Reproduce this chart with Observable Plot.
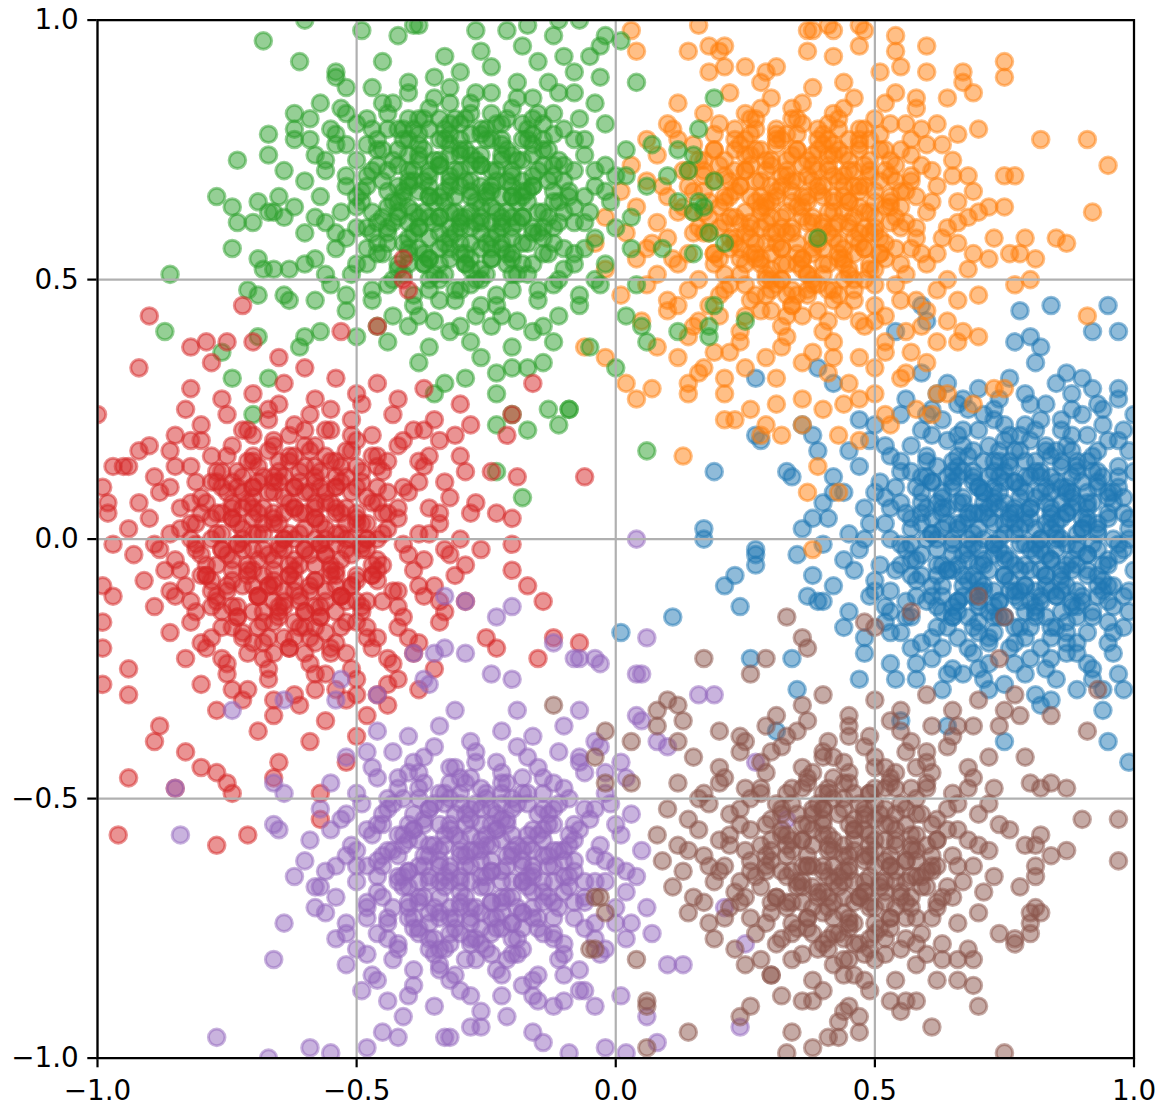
<!DOCTYPE html>
<html><head><meta charset="utf-8">
<script src="https://cdn.jsdelivr.net/npm/d3@7"></script>
<script src="https://cdn.jsdelivr.net/npm/@observablehq/plot@0.6"></script>
<style>
html,body{margin:0;padding:0;background:#fff;}
#chart svg{display:block;}
#chart g[aria-label*="axis"] path, #chart g[aria-label*="axis"] line{stroke-width:2.2px;}
</style>
</head><body><div id="chart"></div>
<script>
const xTicks = [-1, -0.5, 0, 0.5, 1];
const yTicks = [-1, -0.5, 0, 0.5, 1];
const seriesNames = ["C0","C1","C2","C3","C4","C5"];
const seriesColors = ["#1f77b4","#ff7f0e","#2ca02c","#d62728","#9467bd","#8c564b"];

const blue = [
[.27,.31],[.42,.30],[.39,.33],[.27,.20],[.28,.19],[.36,.22],[.38,.20],[.39,.17],[.47,.23],[.33,.13],[.34,.12],[.19,.13],[.17,.02],[.17,-.00],[.27,-.02],[.84,.45],[.95,.45],[.78,.44],[.92,.40],[.97,.40],[.77,.38],[.80,.39],[.82,.37],[.59,.45],[.60,.42],[.54,.40],[.87,.32],[.81,.34],[.97,.29],[.92,.29],[.59,.32],[.42,.09],[.38,.04],[.01,-.18],[.11,-.15],[.24,-.13],[.21,-.09],[.23,-.07],[.27,-.03],[.27,-.05],[.26,-.23],[.34,-.23],[.35,-.29],[.31,-.37],[.47,-.27],[.55,-.35],[.75,-.39],[.95,-.39],[.99,-.43],[.94,-.33],[.82,-.32],[.84,-.31],[.92,-.27],[.94,-.29],[.98,-.29],[.71,-.27],[.72,-.29],[.64,-.36],[.39,-.12],[.37,-.11],
[.56,.27],[.62,.28],[.66,.26],[.70,.29],[.74,.27],[.79,.28],[.83,.26],[.88,.28],[.93,.26],[.97,.27],[.64,.30],[.76,.31],[.85,.30],[.68,.25],[.90,.31],
[.50,.22],[.55,.24],[.59,.21],[.63,.23],[.67,.21],[.71,.24],[.75,.22],[.78,.20],[.82,.23],[.86,.21],[.90,.24],[.94,.22],[.98,.21],[.61,.25],[.73,.25],[.88,.25],[1.0,.24],
[.45,.17],[.49,.19],[.53,.16],[.57,.18],[.60,.15],[.64,.19],[.68,.16],[.72,.18],[.76,.15],[.80,.19],[.84,.16],[.87,.18],[.91,.15],[.95,.19],[.99,.17],[.66,.20],[.78,.17],[.93,.17],
[.42,.12],[.47,.14],[.51,.11],[.55,.13],[.58,.10],[.62,.14],[.65,.11],[.69,.13],[.73,.10],[.76,.14],[.80,.12],[.83,.10],[.86,.14],[.90,.11],[.93,.13],[.97,.10],[1.0,.13],[.60,.12],[.71,.15],[.88,.12],[.79,.15],
[.40,.07],[.44,.09],[.48,.06],[.52,.08],[.56,.05],[.59,.09],[.63,.06],[.67,.08],[.70,.05],[.74,.09],[.77,.06],[.81,.08],[.84,.05],[.88,.09],[.91,.06],[.95,.08],[.98,.05],[.54,.10],[.65,.10],[.73,.07],[.86,.07],[.93,.10],
[.36,.02],[.41,.04],[.45,.01],[.49,.03],[.53,.00],[.57,.04],[.61,.01],[.64,.03],[.68,.00],[.72,.04],[.75,.01],[.79,.03],[.82,.00],[.86,.04],[.89,.01],[.93,.03],[.96,.00],[.99,.04],[.59,.05],[.70,.02],[.77,.05],[.84,.02],[.91,.04],
[.35,-.03],[.40,-.01],[.44,-.04],[.47,-.02],[.51,-.05],[.55,-.01],[.58,-.04],[.62,-.02],[.66,-.05],[.69,-.01],[.73,-.03],[.77,-.05],[.80,-.02],[.84,-.04],[.87,-.01],[.91,-.03],[.94,-.05],[.98,-.02],[.60,-.00],[.71,-.04],[.82,-.00],[.89,-.05],
[.38,-.07],[.42,-.09],[.46,-.06],[.50,-.08],[.53,-.10],[.57,-.07],[.61,-.09],[.64,-.06],[.68,-.08],[.71,-.10],[.75,-.07],[.79,-.09],[.82,-.06],[.86,-.08],[.89,-.10],[.93,-.07],[.96,-.09],[1.0,-.06],[.55,-.05],[.73,-.10],[.84,-.10],
[.40,-.12],[.45,-.14],[.49,-.11],[.52,-.13],[.56,-.15],[.60,-.12],[.63,-.14],[.67,-.11],[.70,-.13],[.74,-.15],[.78,-.12],[.81,-.14],[.85,-.11],[.88,-.13],[.92,-.15],[.95,-.12],[.99,-.14],[.65,-.15],[.76,-.10],[.90,-.11],
[.44,-.17],[.48,-.19],[.52,-.16],[.55,-.18],[.59,-.20],[.62,-.17],[.66,-.19],[.70,-.16],[.73,-.18],[.77,-.20],[.80,-.17],[.84,-.19],[.87,-.16],[.91,-.18],[.95,-.20],[.98,-.17],[.68,-.21],[.82,-.21],
[.48,-.22],[.53,-.24],[.57,-.21],[.61,-.23],[.65,-.25],[.69,-.22],[.72,-.24],[.76,-.21],[.80,-.23],[.83,-.25],[.87,-.22],[.91,-.24],[.96,-.22],[.63,-.21],[.89,-.20],
[.58,-.27],[.63,-.29],[.67,-.26],[.75,-.28],[.79,-.26],[.85,-.27],[.89,-.29],[.97,-.26],[.54,-.27],[.81,-.30],
[.62,.07],[.66,.03],[.70,.10],[.74,-.02],[.78,.08],[.82,.13],[.86,-.06],[.90,.02],[.94,.12],[.58,-.08],[.63,-.11],[.68,.05],[.72,.12],[.76,-.08],[.80,.04],[.84,.09],[.88,-.12],[.92,-.01],[.96,.07],[.65,-.03],[.69,-.07],[.73,.03],[.77,.11],[.81,-.10],[.85,.00],[.89,.07],[.93,-.09],[.97,.14],[.60,.16],[.67,.18],[.75,.19],[.83,.17],[.91,.20],[.64,-.17],[.72,-.19],[.79,-.14],[.87,-.18],[.95,-.16],[.71,.00],[.79,-.01],[.87,.05],[.57,.02],[.61,.11],[.53,.06],[.56,-.12],[.99,.00],[.99,-.10],[.75,.13],[.83,-.07],[.70,-.12],[.66,.14],[.91,.09],[.95,-.04],[.86,.15],[.78,-.17],[.74,.06],[.62,-.05],[.68,-.15],[.81,.21],[.89,-.22],
[.52,.18],[.57,.13],[.61,.20],[.66,.16],[.70,.21],[.74,.17],[.79,.22],[.83,.18],[.88,.20],[.92,.16],[.97,.19],
[.50,.09],[.55,.07],[.59,.12],[.63,.08],[.67,.13],[.71,.07],[.75,.11],[.80,.06],[.84,.12],[.88,.08],[.92,.13],[.96,.09],
[.48,.00],[.52,.03],[.56,-.02],[.61,.04],[.65,.00],[.69,.05],[.73,-.01],[.77,.03],[.81,-.03],[.85,.03],[.89,-.02],[.93,.02],[.97,-.03],
[.50,-.10],[.54,-.06],[.58,-.11],[.62,-.07],[.66,-.12],[.70,-.08],[.74,-.12],[.78,-.06],[.82,-.11],[.86,-.07],[.90,-.12],[.94,-.08],[.98,-.11],
[.53,-.18],[.57,-.15],[.61,-.19],[.66,-.14],[.70,-.18],[.75,-.15],[.79,-.19],[.83,-.15],[.87,-.20],[.92,-.14],[.96,-.18],
[.58,-.24],[.64,-.26],[.70,-.25],[.77,-.24],[.84,-.23],[.92,-.25],
[.60,.24],[.67,.27],[.73,.23],[.80,.26],[.86,.23],[.94,.25],
[.63,.02],[.67,-.09],[.71,.09],[.75,-.04],[.79,.12],[.83,-.09],[.87,.10],[.91,-.06],[.95,.04],[.64,.12],[.68,-.02],[.72,-.14],[.76,.05],[.80,-.12],[.84,.06],[.88,-.04],[.92,.07],[.96,-.13],[.66,.07],[.70,-.05],[.74,.15],[.78,-.01],[.82,.09],[.86,-.14],[.90,.04],[.94,-.10],[.98,.08],[.62,-.13],[.73,.08],[.77,-.10],[.81,.02],[.85,-.02],[.89,.14],[.93,-.02],[.69,.12],[.65,-.06],[.60,.06],[.57,-.04],[.76,.20],[.84,-.17],[.72,-.20],[.88,.17],[.99,.02],[.97,.12],[.55,.15],[.53,-.14],
[.65,.15],[.69,.17],[.73,.15],[.77,.17],[.81,.15],[.85,.17],[.89,.15],
[.61,.11],[.65,.13],[.69,.11],[.73,.13],[.77,.11],[.81,.13],[.85,.11],[.89,.13],[.93,.11],
[.59,.07],[.63,.09],[.67,.07],[.71,.09],[.75,.07],[.79,.09],[.83,.07],[.87,.09],[.91,.07],[.95,.09],
[.59,.03],[.63,.05],[.67,.03],[.71,.05],[.75,.03],[.79,.05],[.83,.03],[.87,.05],[.91,.03],[.95,.05],
[.57,-.01],[.61,.01],[.65,-.01],[.69,.01],[.73,-.01],[.77,.01],[.81,-.01],[.85,.01],[.89,-.01],[.93,.01],[.97,-.01],
[.59,-.03],[.63,-.05],[.67,-.03],[.71,-.05],[.75,-.03],[.79,-.05],[.83,-.03],[.87,-.05],[.91,-.03],[.95,-.05],
[.59,-.07],[.63,-.09],[.67,-.07],[.71,-.09],[.75,-.07],[.79,-.09],[.83,-.07],[.87,-.09],[.91,-.07],[.95,-.09],
[.61,-.11],[.65,-.13],[.69,-.11],[.73,-.13],[.77,-.11],[.81,-.13],[.85,-.11],[.89,-.13],[.93,-.11],
[.65,-.15],[.69,-.17],[.73,-.15],[.77,-.17],[.81,-.15],[.85,-.17],[.89,-.15],
[.66,.12],[.70,.10],[.74,.12],[.78,.10],[.82,.12],[.86,.10],
[.64,.06],[.68,.04],[.72,.06],[.76,.04],[.80,.06],[.84,.04],[.88,.06],
[.62,.00],[.66,.02],[.70,-.02],[.74,.00],[.78,.02],[.82,-.02],[.86,.00],[.90,.02],
[.64,-.06],[.68,-.04],[.72,-.06],[.76,-.04],[.80,-.06],[.84,-.04],[.88,-.06],
[.66,-.12],[.70,-.10],[.74,-.12],[.78,-.10],[.82,-.12],[.86,-.10]
];

const orange = [
[.03,.98],[.04,.94],[.16,.99],[.14,.94],[.18,.95],[.20,.94],[.21,.95],[.18,.90],[.21,.91],[.25,.91],[.29,.90],[.31,.91],[.37,.98],[.38,.98],[.41,.99],[.42,.98],[.47,.99],[.48,.98],[.37,.94],[.42,.93],[.47,.95],[.54,.97],[.54,.94],[.60,.95],[.60,.90],[.55,.91],[.51,.90],[.67,.90],[.67,.88],[.69,.86],[.75,.92],[.75,.89],[.58,.85],[.70,.79],[.82,.77],[.91,.77],[.95,.72],[.75,.70],[.77,.70],[.75,.64],[.72,.64],[.70,.63],[.66,.61],[.92,.63],[.69,.67],[.73,.58],[.79,.58],[.85,.58],[.87,.57],[.69,.55],[.72,.54],[.76,.55],[.78,.55],[.81,.54],[.77,.49],[.80,.50],[.68,.52],[.91,.43],[.70,.47],[.66,.46],[.67,.40],[.66,.38],[.70,.39],[.73,.29],[.75,.29],[.69,.26],[.61,.24],[.58,.25],[.53,.22],[.52,.24],[.56,.32],[.62,.28],[.64,.28],[.50,.28],[.47,.27],[.44,.26],[.43,.20],[.47,.19],[.39,.14],[.43,.09],[.37,.09],[.38,-.02],[.40,.25],[.36,.22],[.32,.20],[.28,.20],[.29,.22],[.21,.23],[.23,.23],[.13,.16],[.26,.25],[.31,.26],[.36,.27],[.02,.30],[.04,.27],[.07,.29],[.14,.28],[.14,.30],[.21,.28],[.21,.31],[.17,.33],[.12,.35],[-.02,.35],[-.06,.37],
[.12,.84],[.17,.82],[.22,.86],[.26,.81],[.30,.85],[.34,.83],[.38,.87],[.42,.82],[.46,.85],[.50,.81],[.54,.86],[.58,.83],[.62,.80],[.28,.88],[.36,.80],[.44,.88],[.64,.85],[.10,.80],
[.06,.77],[.11,.79],[.15,.76],[.19,.78],[.23,.75],[.27,.79],[.31,.76],[.35,.78],[.39,.75],[.43,.79],[.47,.76],[.51,.78],[.55,.75],[.59,.79],[.63,.76],[.66,.78],[.25,.77],[.41,.77],[.57,.77],
[.03,.72],[.08,.74],[.13,.71],[.17,.73],[.21,.70],[.25,.74],[.29,.71],[.33,.73],[.37,.70],[.41,.74],[.45,.71],[.49,.73],[.53,.70],[.57,.74],[.61,.71],[.65,.73],[.68,.70],[.35,.75],[.47,.75],[.59,.72],
[.01,.67],[.06,.69],[.10,.66],[.14,.68],[.18,.65],[.22,.69],[.26,.66],[.30,.68],[.34,.65],[.38,.69],[.42,.66],[.46,.68],[.50,.65],[.54,.69],[.58,.66],[.62,.68],[.66,.65],[.32,.70],[.44,.70],[.56,.67],
[-.02,.62],[.04,.64],[.08,.61],[.12,.63],[.16,.60],[.20,.64],[.24,.61],[.28,.63],[.32,.60],[.36,.64],[.40,.61],[.44,.63],[.48,.60],[.52,.64],[.56,.61],[.60,.63],[.64,.60],[.68,.62],[.30,.65],[.42,.65],[.54,.62],
[-.04,.57],[.02,.59],[.06,.56],[.10,.58],[.14,.55],[.18,.59],[.22,.56],[.26,.58],[.30,.55],[.34,.59],[.38,.56],[.42,.58],[.46,.55],[.50,.59],[.54,.56],[.58,.58],[.62,.55],[.66,.57],[.28,.60],[.40,.60],[.52,.57],
[-.02,.52],[.04,.54],[.08,.51],[.12,.53],[.16,.50],[.20,.54],[.24,.51],[.28,.53],[.32,.50],[.36,.54],[.40,.51],[.44,.53],[.48,.50],[.52,.54],[.56,.51],[.60,.53],[.64,.50],[.26,.55],[.38,.55],[.50,.52],
[.01,.47],[.06,.49],[.10,.46],[.14,.48],[.18,.45],[.22,.49],[.26,.46],[.30,.48],[.34,.45],[.38,.49],[.42,.46],[.46,.48],[.50,.45],[.54,.49],[.58,.46],[.62,.48],[.32,.50],[.44,.50],
[.05,.42],[.10,.44],[.15,.41],[.20,.43],[.24,.40],[.28,.44],[.32,.41],[.36,.43],[.40,.40],[.44,.44],[.48,.41],[.52,.43],[.56,.40],[.60,.44],[.64,.42],[.34,.45],
[.08,.37],[.14,.39],[.19,.36],[.24,.38],[.29,.35],[.33,.39],[.38,.36],[.42,.38],[.47,.35],[.52,.38],[.57,.36],[.62,.38],
[.16,.32],[.25,.33],[.31,.31],[.36,.34],[.41,.32],[.45,.30],[.50,.33],[.55,.31],[.60,.34],
[.20,.72],[.24,.68],[.28,.75],[.32,.62],[.36,.72],[.40,.66],[.44,.74],[.48,.63],[.52,.71],[.27,.57],[.31,.66],[.35,.57],[.39,.71],[.43,.61],[.47,.68],[.51,.58],[.23,.62],[.19,.55],[.29,.50],[.37,.48],[.45,.52],[.53,.66],[.41,.80],[.33,.78],[.25,.82],[.49,.77],[.17,.67],[.21,.48],[.39,.44],[.47,.42],[.57,.70],[.55,.53],[.30,.44],[.26,.72],[.34,.69],[.42,.70],[.38,.61],[.46,.58],[.22,.58],[.30,.59],[.50,.49],[.14,.71],[.18,.62],[.58,.60],[.36,.52],[.44,.56],[.28,.64],[.40,.76],[.48,.72],[.32,.53],
[.12,.77],[.16,.73],[.20,.80],[.24,.76],[.28,.83],[.32,.77],[.36,.84],[.40,.78],[.44,.83],[.48,.79],[.52,.84],[.56,.80],[.60,.76],
[.09,.68],[.13,.64],[.17,.70],[.21,.66],[.25,.71],[.29,.64],[.33,.70],[.37,.66],[.41,.72],[.45,.65],[.49,.70],[.53,.64],[.57,.69],[.61,.65],[.65,.70],
[.07,.57],[.11,.54],[.15,.59],[.19,.53],[.23,.58],[.27,.54],[.31,.59],[.35,.53],[.39,.58],[.43,.54],[.47,.59],[.51,.55],[.55,.60],[.59,.55],[.63,.58],
[.12,.45],[.16,.42],[.20,.47],[.25,.43],[.29,.47],[.33,.43],[.37,.47],[.41,.42],[.46,.46],[.50,.42],[.55,.46],[.59,.41],
[.22,.36],[.32,.37],[.42,.35],[.52,.36],
[.22,.66],[.26,.61],[.30,.73],[.34,.67],[.38,.74],[.42,.63],[.46,.71],[.50,.62],[.24,.54],[.28,.69],[.32,.56],[.36,.62],[.40,.53],[.44,.68],[.48,.56],[.52,.75],[.26,.78],[.30,.52],[.34,.81],[.38,.58],[.42,.76],[.46,.50],[.50,.67],[.54,.72],[.20,.60],[.35,.64],[.45,.60],[.27,.65],[.39,.68],[.43,.57],[.31,.78],[.23,.71],[.47,.64],[.55,.64],[.19,.75],[.37,.51],[.29,.57],[.41,.48],[.33,.47],[.49,.52],[.25,.49],[.15,.63],[.57,.56],[.53,.80],[.45,.77],
[.23,.79],[.27,.81],[.31,.79],[.35,.81],[.39,.79],[.43,.81],[.47,.79],
[.19,.75],[.23,.77],[.27,.75],[.31,.77],[.35,.75],[.39,.77],[.43,.75],[.47,.77],[.51,.75],
[.17,.71],[.21,.73],[.25,.71],[.29,.73],[.33,.71],[.37,.73],[.41,.71],[.45,.73],[.49,.71],[.53,.73],
[.15,.67],[.19,.69],[.23,.67],[.27,.69],[.31,.67],[.35,.69],[.39,.67],[.43,.69],[.47,.67],[.51,.69],[.55,.67],
[.17,.63],[.21,.65],[.25,.63],[.29,.65],[.33,.63],[.37,.65],[.41,.63],[.45,.65],[.49,.63],[.53,.65],
[.17,.59],[.21,.61],[.25,.59],[.29,.61],[.33,.59],[.37,.61],[.41,.59],[.45,.61],[.49,.59],[.53,.61],
[.19,.55],[.23,.57],[.27,.55],[.31,.57],[.35,.55],[.39,.57],[.43,.55],[.47,.57],[.51,.55],
[.21,.51],[.25,.53],[.29,.51],[.33,.53],[.37,.51],[.41,.53],[.45,.51],[.49,.53],
[.27,.47],[.31,.49],[.35,.47],[.39,.49],[.43,.47],
[.26,.74],[.30,.72],[.34,.74],[.38,.72],[.42,.74],
[.24,.68],[.28,.66],[.32,.68],[.36,.66],[.40,.68],[.44,.66],[.48,.68],
[.22,.62],[.26,.60],[.30,.62],[.34,.60],[.38,.62],[.42,.60],[.46,.62],[.50,.60],
[.24,.56],[.28,.54],[.32,.56],[.36,.54],[.40,.56],[.44,.54],[.48,.56],
[.30,.50],[.34,.48],[.38,.50],[.42,.48]
];

const green = [
[-.60,1.0],[-.68,.96],[-.49,.98],[-.42,.97],[-.39,.99],[-.38,.99],[-.27,.98],[-.21,.98],[-.61,.92],[-.45,.92],[-.54,.90],[-.54,.89],[-.52,.87],[-.47,.87],[-.40,.88],[-.57,.84],[-.53,.83],[-.62,.82],[-.59,.81],[-.67,.78],[-.62,.79],[-.62,.77],[-.59,.77],[-.54,.78],[-.67,.74],[-.73,.73],[-.64,.71],[-.77,.66],[-.74,.64],[-.73,.61],[-.70,.61],[-.74,.56],[-.69,.65],[-.65,.66],[-.67,.63],[-.66,.63],[-.64,.62],[-.69,.54],[-.68,.52],[-.66,.52],[-.63,.52],[-.60,.53],[-.86,.51],[-.71,.48],[-.69,.47],[-.64,.47],[-.63,.46],[-.58,.46],[-.87,.40],[-.69,.39],[-.76,.36],[-.74,.31],[-.67,.31],[-.70,.24],[-.61,.37],[-.60,.39],[-.57,.40],[-.23,.28],[-.20,.24],[-.23,.22],[-.17,.21],[-.13,.25],[-.09,.25],[-.11,.22],[-.18,.08],[-.23,.13],[-.35,.28],[-.33,.30],[-.29,.31],[-.23,.32],[-.20,.33],[-.17,.33],[-.07,1.0],[.01,.96],[-.03,.95],[-.03,.89],[.04,.88],[.19,.85],[.16,.79],[.07,.76],[.12,.75],[.15,.74],[.02,.70],[.06,.68],[.10,.70],[.14,.71],[.19,.69],[.12,.65],[.16,.65],[.17,.64],[.15,.63],[.18,.59],[.21,.57],[.39,.58],[.03,.56],[.09,.56],[.15,.55],[.04,.49],[.19,.45],[.25,.42],[.02,.43],[.05,.41],[.06,.38],[.12,.40],[.18,.41],[.18,.39],[-.05,.37],[.00,.33],[-.09,.25],[.06,.17],
[-.33,.93],[-.30,.90],[-.26,.94],[-.24,.91],[-.18,.95],[-.15,.92],[-.12,.97],[-.10,.93],[-.08,.90],[-.35,.89],[-.19,.88],[-.13,.88],[-.17,.99],[-.11,1.0],[-.05,.93],[-.02,.97],
[-.45,.84],[-.40,.86],[-.36,.83],[-.32,.87],[-.28,.84],[-.24,.86],[-.20,.83],[-.16,.85],[-.12,.82],[-.08,.86],[-.04,.84],[-.38,.81],[-.22,.80],[-.30,.80],[-.14,.80],[-.48,.81],
[-.55,.79],[-.50,.80],[-.46,.77],[-.42,.79],[-.38,.78],[-.34,.81],[-.30,.77],[-.26,.79],[-.22,.77],[-.18,.80],[-.14,.77],[-.10,.79],[-.06,.77],[-.02,.80],[-.44,.82],[-.28,.82],[-.20,.74],
[-.58,.74],[-.54,.76],[-.50,.73],[-.46,.75],[-.42,.72],[-.38,.76],[-.34,.73],[-.30,.75],[-.26,.72],[-.22,.76],[-.18,.73],[-.14,.75],[-.10,.72],[-.06,.74],[-.02,.72],[.02,.75],[-.32,.78],[-.40,.74],[-.16,.78],
[-.60,.69],[-.56,.71],[-.52,.68],[-.48,.70],[-.44,.67],[-.40,.71],[-.36,.68],[-.32,.70],[-.28,.67],[-.24,.71],[-.20,.68],[-.16,.70],[-.12,.67],[-.08,.71],[-.04,.68],[.00,.70],[-.34,.72],[-.26,.74],[-.18,.66],
[-.62,.64],[-.57,.66],[-.53,.63],[-.49,.65],[-.45,.62],[-.41,.66],[-.37,.63],[-.33,.65],[-.29,.62],[-.25,.66],[-.21,.63],[-.17,.65],[-.13,.62],[-.09,.66],[-.05,.63],[-.01,.65],[.03,.62],[-.39,.69],[-.23,.69],[-.31,.66],
[-.60,.59],[-.56,.61],[-.52,.58],[-.48,.60],[-.44,.57],[-.40,.61],[-.36,.58],[-.32,.60],[-.28,.57],[-.24,.61],[-.20,.58],[-.16,.60],[-.12,.57],[-.08,.61],[-.04,.58],[.00,.60],[-.34,.62],[-.26,.59],[-.42,.63],
[-.58,.54],[-.54,.56],[-.50,.53],[-.46,.55],[-.42,.52],[-.38,.56],[-.34,.53],[-.30,.55],[-.26,.52],[-.22,.56],[-.18,.53],[-.14,.55],[-.10,.52],[-.06,.56],[-.02,.53],[-.32,.58],[-.20,.60],[-.44,.59],
[-.55,.49],[-.51,.51],[-.47,.48],[-.43,.50],[-.39,.47],[-.35,.51],[-.31,.48],[-.27,.50],[-.23,.47],[-.19,.51],[-.15,.48],[-.11,.50],[-.07,.47],[-.03,.49],[-.29,.53],[-.37,.53],
[-.52,.44],[-.47,.46],[-.43,.43],[-.39,.45],[-.35,.42],[-.31,.46],[-.27,.43],[-.23,.45],[-.19,.42],[-.15,.46],[-.11,.43],[-.07,.45],
[-.50,.39],[-.44,.38],[-.40,.41],[-.36,.37],[-.32,.40],[-.28,.38],[-.24,.41],[-.20,.37],[-.16,.40],[-.12,.38],[-.26,.35],[-.38,.34],[-.14,.34],
[-.36,.66],[-.32,.74],[-.28,.69],[-.24,.64],[-.20,.71],[-.30,.61],[-.26,.56],[-.22,.66],[-.18,.62],[-.34,.56],[-.38,.73],[-.42,.68],[-.44,.60],[-.40,.55],[-.36,.50],[-.28,.78],[-.24,.82],[-.16,.74],[-.12,.70],[-.14,.58],[-.10,.63],[-.06,.66],[-.08,.53],[-.46,.72],[-.50,.64],[-.48,.56],[-.32,.84],[-.20,.51],[-.26,.45],[-.36,.79],[-.40,.64],[-.30,.71],[-.22,.61],[-.16,.68],[-.34,.46],[-.12,.78],[-.52,.76],[-.28,.63],[-.24,.54],[-.18,.57],
[-.52,.82],[-.47,.79],[-.43,.84],[-.39,.79],[-.35,.85],[-.31,.81],[-.27,.86],[-.23,.80],[-.19,.85],[-.15,.82],[-.11,.86],[-.07,.81],
[-.56,.73],[-.52,.70],[-.48,.76],[-.44,.71],[-.40,.77],[-.36,.71],[-.32,.76],[-.28,.72],[-.24,.77],[-.20,.70],[-.16,.76],[-.12,.72],[-.08,.77],[-.04,.71],
[-.58,.62],[-.54,.59],[-.50,.66],[-.46,.61],[-.42,.65],[-.38,.60],[-.34,.66],[-.30,.62],[-.26,.68],[-.22,.62],[-.18,.67],[-.14,.63],[-.10,.69],[-.06,.61],[-.02,.67],
[-.56,.51],[-.52,.47],[-.48,.53],[-.44,.49],[-.40,.53],[-.36,.48],[-.32,.54],[-.28,.49],[-.24,.54],[-.20,.48],[-.16,.53],[-.12,.49],[-.08,.55],[-.04,.50],
[-.46,.41],[-.38,.43],[-.30,.41],[-.22,.43],[-.14,.41],
[-.44,.64],[-.40,.58],[-.36,.70],[-.32,.63],[-.28,.74],[-.24,.58],[-.20,.66],[-.16,.59],[-.12,.65],[-.42,.75],[-.38,.67],[-.34,.59],[-.30,.68],[-.26,.61],[-.22,.73],[-.18,.69],[-.14,.72],[-.46,.57],[-.42,.53],[-.38,.62],[-.34,.77],[-.30,.57],[-.26,.64],[-.22,.57],[-.18,.77],[-.10,.56],[-.36,.54],[-.28,.52],[-.20,.55],[-.44,.79],[-.32,.80],[-.26,.78],[-.40,.81],[-.16,.81],[-.48,.68],[-.24,.67],[-.32,.69],[-.36,.62],[-.28,.60],[-.12,.60],[-.08,.64],[-.50,.60],[-.20,.62],[-.40,.69],
[-.41,.79],[-.37,.81],[-.33,.79],[-.29,.81],[-.25,.79],[-.21,.81],[-.17,.79],
[-.45,.75],[-.41,.77],[-.37,.75],[-.33,.77],[-.29,.75],[-.25,.77],[-.21,.75],[-.17,.77],[-.13,.75],
[-.47,.71],[-.43,.73],[-.39,.71],[-.35,.73],[-.31,.71],[-.27,.73],[-.23,.71],[-.19,.73],[-.15,.71],[-.11,.73],
[-.49,.67],[-.45,.69],[-.41,.67],[-.37,.69],[-.33,.67],[-.29,.69],[-.25,.67],[-.21,.69],[-.17,.67],[-.13,.69],[-.09,.67],
[-.47,.63],[-.43,.65],[-.39,.63],[-.35,.65],[-.31,.63],[-.27,.65],[-.23,.63],[-.19,.65],[-.15,.63],[-.11,.65],
[-.47,.59],[-.43,.61],[-.39,.59],[-.35,.61],[-.31,.59],[-.27,.61],[-.23,.59],[-.19,.61],[-.15,.59],[-.11,.61],
[-.45,.55],[-.41,.57],[-.37,.55],[-.33,.57],[-.29,.55],[-.25,.57],[-.21,.55],[-.17,.57],[-.13,.55],
[-.41,.51],[-.37,.53],[-.33,.51],[-.29,.53],[-.25,.51],[-.21,.53],[-.17,.51],
[-.38,.74],[-.34,.72],[-.30,.74],[-.26,.72],[-.22,.74],
[-.40,.68],[-.36,.66],[-.32,.68],[-.28,.66],[-.24,.68],[-.20,.66],[-.16,.68],
[-.42,.62],[-.38,.60],[-.34,.62],[-.30,.60],[-.26,.62],[-.22,.60],[-.18,.62],[-.14,.60],
[-.40,.56],[-.36,.54],[-.32,.56],[-.28,.54],[-.24,.56],[-.20,.54],
[-.34,.50],[-.30,.48],[-.26,.50]
];

const red = [
[-.72,.45],[-.90,.43],[-.92,.33],[-.82,.37],[-.79,.38],[-.75,.38],[-.78,.34],[-.82,.29],[-.83,.25],[-.85,.20],[-.90,.18],[-.92,.17],[-.97,.14],[-.95,.14],[-.94,.14],[-1.0,.24],[-.99,.10],[-.98,.07],[-.98,.05],[-.97,-.01],[-.41,.54],[-.41,.50],[-.40,.48],[-.46,.41],[-.53,.40],[-.65,.35],[-.70,.38],[-.16,.30],[-.20,.24],[-.21,.20],[-.28,.22],[-.30,.26],[-.24,.13],[-.19,.12],[-.06,.12],[-.27,.07],[-.23,.05],[-.20,.04],[-.37,.21],[-.94,-.46],[-.96,-.57],[-.77,-.59],[-.71,-.57],[-.85,-.48],[-.74,-.49],[-.75,-.47],[-.66,-.46],[-.65,-.43],[-.57,-.54],[-.57,-.49],[-.52,-.43],[-.59,-.39],[-.14,-.12],[-.12,-.19],[-.07,-.20],[-.15,-.23],[-.23,-.21],[-.25,-.19],[-.17,-.09],[-.20,-.06],[-.26,-.02],[-.20,-.01],[-.99,-.16],[-.99,-.21],[-.99,-.28],[-.97,-.11],[-.99,-.09],[-.94,-.30],[-.94,-.25],[-.89,-.39],[-.88,-.36],[-.83,-.41],[-.80,-.44],[-.77,-.45],
[-.70,.28],[-.64,.30],[-.58,.27],[-.54,.31],[-.50,.28],[-.46,.30],[-.42,.27],[-.60,.33],[-.67,.25],[-.76,.27],[-.37,.29],[-.55,.25],
[-.80,.22],[-.75,.24],[-.71,.21],[-.67,.23],[-.63,.20],[-.59,.24],[-.55,.21],[-.51,.23],[-.47,.20],[-.43,.24],[-.39,.21],[-.35,.23],[-.31,.20],[-.65,.26],[-.49,.26],
[-.86,.17],[-.82,.19],[-.78,.16],[-.74,.18],[-.70,.15],[-.66,.19],[-.62,.16],[-.58,.18],[-.54,.15],[-.50,.19],[-.46,.16],[-.42,.18],[-.38,.15],[-.34,.19],[-.30,.16],[-.72,.21],[-.56,.21],
[-.89,.12],[-.85,.14],[-.81,.11],[-.77,.13],[-.73,.10],[-.69,.14],[-.65,.11],[-.61,.13],[-.57,.10],[-.53,.14],[-.49,.11],[-.45,.13],[-.41,.10],[-.37,.14],[-.33,.11],[-.29,.13],[-.63,.16],[-.47,.16],
[-.92,.07],[-.88,.09],[-.84,.06],[-.80,.08],[-.76,.05],[-.72,.09],[-.68,.06],[-.64,.08],[-.60,.05],[-.56,.09],[-.52,.06],[-.48,.08],[-.44,.05],[-.40,.09],[-.36,.06],[-.32,.08],[-.28,.05],[-.66,.11],[-.54,.12],
[-.94,.02],[-.90,.04],[-.86,.01],[-.82,.03],[-.78,.00],[-.74,.04],[-.70,.01],[-.66,.03],[-.62,.00],[-.58,.04],[-.54,.01],[-.50,.03],[-.46,.00],[-.42,.04],[-.38,.01],[-.34,.03],[-.30,.00],[-.72,.06],[-.58,.07],
[-.93,-.03],[-.89,-.01],[-.85,-.04],[-.81,-.02],[-.77,-.05],[-.73,-.01],[-.69,-.04],[-.65,-.02],[-.61,-.05],[-.57,-.01],[-.53,-.04],[-.49,-.02],[-.45,-.05],[-.41,-.01],[-.37,-.04],[-.33,-.02],[-.29,-.05],[-.63,.01],[-.51,-.00],
[-.91,-.08],[-.87,-.06],[-.83,-.09],[-.79,-.07],[-.75,-.10],[-.71,-.06],[-.67,-.09],[-.63,-.07],[-.59,-.10],[-.55,-.06],[-.51,-.09],[-.47,-.07],[-.43,-.10],[-.39,-.06],[-.35,-.09],[-.31,-.07],[-.69,-.11],[-.53,-.11],
[-.89,-.13],[-.85,-.11],[-.81,-.14],[-.77,-.12],[-.73,-.15],[-.69,-.11],[-.65,-.14],[-.61,-.12],[-.57,-.15],[-.53,-.11],[-.49,-.14],[-.45,-.12],[-.41,-.15],[-.37,-.11],[-.33,-.14],[-.29,-.12],
[-.86,-.18],[-.82,-.16],[-.78,-.19],[-.74,-.17],[-.70,-.20],[-.66,-.16],[-.62,-.19],[-.58,-.17],[-.54,-.20],[-.50,-.16],[-.46,-.19],[-.42,-.17],[-.38,-.20],[-.34,-.16],[-.60,-.14],[-.76,-.14],
[-.83,-.23],[-.79,-.21],[-.75,-.24],[-.71,-.22],[-.67,-.25],[-.63,-.21],[-.59,-.24],[-.55,-.22],[-.51,-.25],[-.47,-.21],[-.43,-.24],[-.39,-.22],[-.35,-.25],
[-.80,-.28],[-.75,-.26],[-.71,-.29],[-.67,-.27],[-.62,-.30],[-.58,-.26],[-.54,-.29],[-.50,-.27],[-.46,-.30],[-.42,-.27],[-.38,-.29],
[-.77,-.33],[-.72,-.31],[-.66,-.34],[-.61,-.32],[-.56,-.35],[-.52,-.31],[-.48,-.34],[-.44,-.32],[-.69,-.37],[-.50,-.38],
[-.60,-.02],[-.64,.05],[-.68,-.07],[-.56,.07],[-.52,-.12],[-.72,.12],[-.76,-.02],[-.48,.03],[-.58,.14],[-.62,-.16],[-.66,.18],[-.70,-.14],[-.54,-.07],[-.74,.07],[-.78,-.10],[-.50,.10],[-.46,-.06],[-.80,.05],[-.58,-.20],[-.64,-.10],[-.68,.01],[-.72,-.18],[-.56,-.03],[-.60,.09],[-.44,.15],[-.52,.17],[-.84,-.06],[-.82,.14],[-.42,-.10],[-.66,-.22],[-.56,-.26],[-.48,-.17],[-.62,.22],[-.70,.16],[-.58,-.08],[-.66,-.04],[-.74,-.06],[-.52,.00],[-.64,.12],[-.76,.10],
[-.80,.19],[-.75,.16],[-.70,.20],[-.65,.15],[-.60,.21],[-.56,.16],[-.51,.20],[-.46,.14],[-.41,.19],[-.36,.16],
[-.86,.10],[-.82,.07],[-.78,.11],[-.74,.06],[-.70,.10],[-.66,.05],[-.62,.10],[-.58,.06],[-.54,.10],[-.50,.05],[-.46,.10],[-.42,.06],[-.38,.11],[-.34,.05],
[-.88,-.02],[-.84,.02],[-.80,-.03],[-.76,.01],[-.72,-.02],[-.68,.03],[-.64,-.02],[-.60,.02],[-.56,-.03],[-.52,.03],[-.48,-.02],[-.44,.02],[-.40,-.03],[-.36,.01],[-.32,-.03],
[-.86,-.10],[-.82,-.12],[-.78,-.08],[-.74,-.13],[-.70,-.09],[-.66,-.12],[-.62,-.08],[-.58,-.13],[-.54,-.09],[-.50,-.12],[-.46,-.08],[-.42,-.13],[-.38,-.09],[-.34,-.12],
[-.80,-.20],[-.76,-.23],[-.72,-.19],[-.68,-.23],[-.64,-.19],[-.60,-.22],[-.56,-.18],[-.52,-.22],[-.48,-.19],[-.44,-.23],[-.40,-.19],
[-.74,-.29],[-.66,-.31],[-.58,-.29],[-.50,-.30],[-.44,-.28],
[-.78,.04],[-.74,-.04],[-.70,.08],[-.66,-.06],[-.62,.06],[-.58,-.05],[-.54,.05],[-.50,-.07],[-.46,.07],[-.76,.13],[-.72,-.09],[-.68,.12],[-.64,-.13],[-.60,.14],[-.56,-.10],[-.52,.12],[-.48,-.12],[-.80,-.07],[-.76,-.17],[-.72,.02],[-.68,-.16],[-.64,.00],[-.60,-.17],[-.56,.02],[-.52,-.16],[-.48,.00],[-.62,-.04],[-.66,.09],[-.70,-.02],[-.58,.11],[-.54,-.01],[-.74,.11],[-.50,.14],[-.82,.00],[-.58,.00],[-.66,-.09],[-.70,.04],[-.62,-.10],[-.54,-.14],[-.46,-.04],[-.78,-.13],[-.60,.18],[-.68,-.20],[-.44,.09],
[-.71,.15],[-.67,.17],[-.63,.15],[-.59,.17],[-.55,.15],[-.51,.17],
[-.77,.11],[-.73,.13],[-.69,.11],[-.65,.13],[-.61,.11],[-.57,.13],[-.53,.11],[-.49,.13],
[-.79,.07],[-.75,.09],[-.71,.07],[-.67,.09],[-.63,.07],[-.59,.09],[-.55,.07],[-.51,.09],[-.47,.07],
[-.81,.03],[-.77,.05],[-.73,.03],[-.69,.05],[-.65,.03],[-.61,.05],[-.57,.03],[-.53,.05],[-.49,.03],[-.45,.05],
[-.81,-.01],[-.77,.01],[-.73,-.01],[-.69,.01],[-.65,-.01],[-.61,.01],[-.57,-.01],[-.53,.01],[-.49,-.01],[-.45,.01],
[-.79,-.05],[-.75,-.03],[-.71,-.05],[-.67,-.03],[-.63,-.05],[-.59,-.03],[-.55,-.05],[-.51,-.03],[-.47,-.05],
[-.79,-.07],[-.75,-.09],[-.71,-.07],[-.67,-.09],[-.63,-.07],[-.59,-.09],[-.55,-.07],[-.51,-.09],[-.47,-.07],
[-.77,-.11],[-.73,-.13],[-.69,-.11],[-.65,-.13],[-.61,-.11],[-.57,-.13],[-.53,-.11],[-.49,-.13],
[-.73,-.15],[-.69,-.17],[-.65,-.15],[-.61,-.17],[-.57,-.15],[-.53,-.17],
[-.67,-.19],[-.63,-.21],[-.59,-.19],[-.55,-.21],
[-.70,.10],[-.66,.12],[-.62,.10],[-.58,.12],[-.54,.10],
[-.74,.04],[-.70,.06],[-.66,.04],[-.62,.06],[-.58,.04],[-.54,.06],[-.50,.04],
[-.76,-.02],[-.72,.00],[-.68,-.02],[-.64,.00],[-.60,-.02],[-.56,.00],[-.52,-.02],[-.48,.00],
[-.74,-.08],[-.70,-.06],[-.66,-.08],[-.62,-.06],[-.58,-.08],[-.54,-.06],[-.50,-.08],
[-.68,-.14],[-.64,-.12],[-.60,-.14],[-.56,-.12]
];

const purple = [
[-.84,-.57],[-.85,-.48],[-.77,-.96],[-.66,-.81],[-.64,-.74],[-.62,-.65],[-.66,-.55],[-.65,-.56],[-.64,-.49],[-.66,-.47],[-.67,-1.0],[-.59,-.98],[-.55,-.99],[-.58,-.71],[-.57,-.67],[-.74,-.33],[-.64,-.31],[-.35,-.22],[-.33,-.21],[-.29,-.22],[-.33,-.11],[-.29,-.12],[-.23,-.15],[-.20,-.13],[-.39,-.22],[-.37,-.27],[-.36,-.28],[-.53,-.27],[-.54,-.31],[-.46,-.30],[-.12,-.20],[-.08,-.23],[-.24,-.26],[-.20,-.27],[-.48,-.98],[-.45,-.95],[-.42,-.96],[-.33,-.96],[-.32,-.96],[-.26,-.94],[-.21,-.92],[-.16,-.95],[-.14,-.97],[-.09,-.99],[-.15,-.89],[-.10,-.89],[.06,-.19],[.04,-.26],[.05,-.26],[.19,-.30],[.04,-.34],[.05,-.35],[-.07,-.23],[-.04,-.23],[-.03,-.24],[.10,-.40],[.08,-.39],[.06,-.71],[.07,-.76],[.10,-.82],[.13,-.82],[.06,-.92],[.08,-.97],[.24,-.94],[-.02,-.98],[.02,-.99],[-.04,-.90],[.01,-.88],[-.07,-.87],[.25,-.78],[.21,-.71],[.27,-.43],[.33,-.54],[.04,.00],[.16,-.30],
[-.46,-.37],[-.40,-.38],[-.34,-.36],[-.28,-.39],[-.22,-.37],[-.16,-.38],[-.10,-.36],[-.04,-.39],[-.31,-.33],[-.19,-.33],[-.07,-.33],
[-.52,-.42],[-.47,-.44],[-.43,-.41],[-.39,-.43],[-.35,-.40],[-.31,-.44],[-.27,-.41],[-.23,-.43],[-.19,-.40],[-.15,-.44],[-.11,-.41],[-.07,-.43],[-.03,-.40],[.01,-.43],
[-.55,-.47],[-.50,-.49],[-.46,-.46],[-.42,-.48],[-.38,-.45],[-.34,-.49],[-.30,-.46],[-.26,-.48],[-.22,-.45],[-.18,-.49],[-.14,-.46],[-.10,-.48],[-.06,-.45],[-.02,-.49],[.02,-.46],
[-.57,-.52],[-.53,-.54],[-.49,-.51],[-.45,-.53],[-.41,-.50],[-.37,-.54],[-.33,-.51],[-.29,-.53],[-.25,-.50],[-.21,-.54],[-.17,-.51],[-.13,-.53],[-.09,-.50],[-.05,-.54],[-.01,-.51],[.03,-.53],[-.39,-.56],[-.23,-.56],
[-.59,-.58],[-.55,-.56],[-.51,-.59],[-.47,-.57],[-.43,-.60],[-.39,-.56],[-.35,-.59],[-.31,-.57],[-.27,-.60],[-.23,-.56],[-.19,-.59],[-.15,-.57],[-.11,-.60],[-.07,-.56],[-.03,-.59],[.01,-.57],[.05,-.60],
[-.60,-.62],[-.56,-.64],[-.52,-.61],[-.48,-.63],[-.44,-.60],[-.40,-.64],[-.36,-.61],[-.32,-.63],[-.28,-.60],[-.24,-.64],[-.20,-.61],[-.16,-.63],[-.12,-.60],[-.08,-.64],[-.04,-.61],[.00,-.63],[.04,-.65],[-.30,-.66],[-.18,-.66],
[-.58,-.67],[-.54,-.69],[-.50,-.66],[-.46,-.68],[-.42,-.65],[-.38,-.69],[-.34,-.66],[-.30,-.68],[-.26,-.65],[-.22,-.69],[-.18,-.66],[-.14,-.68],[-.10,-.65],[-.06,-.69],[-.02,-.66],[.02,-.68],
[-.56,-.72],[-.52,-.74],[-.48,-.71],[-.44,-.73],[-.40,-.70],[-.36,-.74],[-.32,-.71],[-.28,-.73],[-.24,-.70],[-.20,-.74],[-.16,-.71],[-.12,-.73],[-.08,-.70],[-.04,-.74],[.00,-.71],[.03,-.74],
[-.54,-.77],[-.50,-.79],[-.46,-.76],[-.42,-.78],[-.38,-.75],[-.34,-.79],[-.30,-.76],[-.26,-.78],[-.22,-.75],[-.18,-.79],[-.14,-.76],[-.10,-.78],[-.06,-.75],[-.02,-.79],[.02,-.77],
[-.52,-.82],[-.47,-.84],[-.43,-.81],[-.39,-.83],[-.35,-.80],[-.31,-.84],[-.27,-.81],[-.23,-.83],[-.19,-.80],[-.15,-.84],[-.11,-.81],[-.07,-.83],[-.03,-.80],
[-.49,-.87],[-.44,-.89],[-.39,-.86],[-.35,-.90],[-.30,-.87],[-.26,-.91],[-.22,-.88],[-.18,-.86],[-.12,-.90],[-.06,-.87],[-.41,-.92],[-.28,-.94],
[-.40,-.58],[-.36,-.65],[-.32,-.55],[-.28,-.63],[-.24,-.70],[-.20,-.57],[-.16,-.65],[-.12,-.55],[-.34,-.73],[-.30,-.49],[-.26,-.58],[-.22,-.64],[-.18,-.72],[-.14,-.61],[-.10,-.68],[-.38,-.50],[-.42,-.66],[-.44,-.74],[-.36,-.79],[-.28,-.78],[-.20,-.80],[-.12,-.77],[-.26,-.52],[-.18,-.46],[-.32,-.44],[-.08,-.58],[-.04,-.66],[-.46,-.55],[-.50,-.63],[-.40,-.71],[-.30,-.61],[-.22,-.51],[-.14,-.49],[-.06,-.52],[-.48,-.80],[-.32,-.85],[-.16,-.85],[-.24,-.59],[-.34,-.69],[-.28,-.71],
[-.48,-.41],[-.42,-.46],[-.37,-.42],[-.32,-.47],[-.27,-.43],[-.22,-.47],[-.17,-.42],[-.12,-.47],[-.07,-.42],[-.02,-.45],
[-.52,-.53],[-.48,-.56],[-.44,-.52],[-.40,-.55],[-.36,-.52],[-.32,-.56],[-.28,-.52],[-.24,-.55],[-.20,-.52],[-.16,-.56],[-.12,-.52],[-.08,-.55],[-.04,-.52],[.00,-.55],
[-.54,-.63],[-.50,-.60],[-.46,-.65],[-.42,-.61],[-.38,-.66],[-.34,-.62],[-.30,-.65],[-.26,-.62],[-.22,-.66],[-.18,-.62],[-.14,-.66],[-.10,-.62],[-.06,-.66],[-.02,-.62],[.02,-.64],
[-.52,-.76],[-.48,-.73],[-.44,-.77],[-.40,-.73],[-.36,-.77],[-.32,-.73],[-.28,-.77],[-.24,-.73],[-.20,-.77],[-.16,-.73],[-.12,-.76],[-.08,-.73],[-.04,-.77],[.00,-.74],
[-.46,-.85],[-.40,-.88],[-.34,-.83],[-.28,-.88],[-.22,-.84],[-.16,-.88],[-.10,-.84],
[-.42,-.57],[-.38,-.63],[-.34,-.55],[-.30,-.60],[-.26,-.67],[-.22,-.54],[-.18,-.63],[-.14,-.56],[-.10,-.60],[-.40,-.67],[-.36,-.72],[-.32,-.66],[-.28,-.57],[-.24,-.62],[-.20,-.69],[-.16,-.60],[-.12,-.70],[-.44,-.50],[-.38,-.48],[-.30,-.51],[-.22,-.49],[-.14,-.52],[-.08,-.62],[-.42,-.79],[-.34,-.82],[-.26,-.75],[-.18,-.75],[-.10,-.80],[-.30,-.71],[-.36,-.59],[-.26,-.55],[-.20,-.60],[-.32,-.78],[-.16,-.68],[-.24,-.80],[-.46,-.62],[-.48,-.70],[-.06,-.70],[-.40,-.45],[-.28,-.46],[-.12,-.63],[-.34,-.63],[-.22,-.72],[-.38,-.76],
[-.37,-.47],[-.33,-.49],[-.29,-.47],[-.25,-.49],[-.21,-.47],[-.17,-.49],
[-.43,-.51],[-.39,-.53],[-.35,-.51],[-.31,-.53],[-.27,-.51],[-.23,-.53],[-.19,-.51],[-.15,-.53],[-.11,-.51],
[-.45,-.55],[-.41,-.57],[-.37,-.55],[-.33,-.57],[-.29,-.55],[-.25,-.57],[-.21,-.55],[-.17,-.57],[-.13,-.55],[-.09,-.57],
[-.45,-.61],[-.41,-.59],[-.37,-.61],[-.33,-.59],[-.29,-.61],[-.25,-.59],[-.21,-.61],[-.17,-.59],[-.13,-.61],[-.09,-.59],
[-.45,-.63],[-.41,-.65],[-.37,-.63],[-.33,-.65],[-.29,-.63],[-.25,-.65],[-.21,-.63],[-.17,-.65],[-.13,-.63],[-.09,-.65],
[-.45,-.69],[-.41,-.67],[-.37,-.69],[-.33,-.67],[-.29,-.69],[-.25,-.67],[-.21,-.69],[-.17,-.67],[-.13,-.69],[-.09,-.67],
[-.43,-.71],[-.39,-.73],[-.35,-.71],[-.31,-.73],[-.27,-.71],[-.23,-.73],[-.19,-.71],[-.15,-.73],[-.11,-.71],
[-.39,-.75],[-.35,-.77],[-.31,-.75],[-.27,-.77],[-.23,-.75],[-.19,-.77],[-.15,-.75],
[-.33,-.79],[-.29,-.81],[-.25,-.79],[-.21,-.81],
[-.36,-.52],[-.32,-.50],[-.28,-.54],[-.24,-.52],[-.20,-.50],
[-.38,-.58],[-.34,-.60],[-.30,-.58],[-.26,-.60],[-.22,-.58],[-.18,-.60],[-.14,-.58],
[-.40,-.64],[-.36,-.66],[-.32,-.64],[-.28,-.66],[-.24,-.64],[-.20,-.66],[-.16,-.64],[-.12,-.66],
[-.38,-.70],[-.34,-.72],[-.30,-.70],[-.26,-.72],[-.22,-.70],[-.18,-.72],[-.14,-.70],
[-.32,-.76],[-.28,-.74],[-.24,-.76],[-.20,-.74]
];

const brown = [
[.33,-.15],[.17,-.23],[.26,-.26],[.29,-.23],[.36,-.19],[.37,-.21],[.48,-.16],[.50,-.17],[.57,-.14],[.70,-.11],[.75,-.15],[.74,-.23],[.77,-.30],[.93,-.29],[.91,-.37],[.84,-.34],[.78,-.34],[.79,-.42],[.75,-.33],[.74,-.36],[.87,-.48],[.84,-.47],[.82,-.48],[.80,-.47],[.90,-.54],[.97,-.54],[.97,-.62],[.87,-.60],[.84,-.61],[.82,-.57],[.81,-.59],[.79,-.59],[.81,-.63],[.81,-.65],[.78,-.67],[.81,-.71],[.82,-.72],[.80,-.72],[.80,-.74],[.80,-.76],[.77,-.77],[.77,-.78],[.74,-.76],[.70,-.90],[.66,-.85],[.69,-.86],[.61,-.94],[.75,-.99],[.55,-.91],[.53,-.89],[.56,-.89],[.63,-.81],[.66,-.81],[.68,-.79],[.69,-.81],[.47,-.92],[.47,-.95],[.43,-.96],[.41,-.96],[.38,-.98],[.34,-.95],[.33,-.99],[.44,-.91],[.43,-.93],[.38,-.89],[.36,-.89],[.30,-.84],[.26,-.90],[.24,-.92],[.14,-.95],[.06,-.98],[.06,-.89],[.06,-.90],[.04,-.81],[-.05,-.79],[-.03,-.69],[-.02,-.72],[-.02,-.47],[-.02,-.37],[.03,-.39],[.08,-.33],[.10,-.31],[.12,-.32],[.13,-.35],[.08,-.36],[.12,-.39],[.03,-.47],[-.12,-.32],[-.04,-.69],[-.04,-.79],[-.04,-.42],
[.36,-.32],[.40,-.30],[.45,-.34],[.50,-.31],[.55,-.33],[.60,-.30],[.65,-.33],[.70,-.31],[.31,-.34],
[.20,-.37],[.25,-.39],[.29,-.36],[.33,-.38],[.37,-.35],[.41,-.39],[.45,-.36],[.49,-.38],[.53,-.35],[.57,-.39],[.61,-.36],[.65,-.38],[.69,-.36],
[.15,-.42],[.20,-.44],[.24,-.41],[.28,-.43],[.32,-.40],[.36,-.44],[.40,-.41],[.44,-.43],[.48,-.40],[.52,-.44],[.56,-.41],[.60,-.43],[.64,-.40],[.68,-.44],[.72,-.42],
[.12,-.47],[.17,-.49],[.21,-.46],[.25,-.48],[.29,-.45],[.33,-.49],[.37,-.46],[.41,-.48],[.45,-.45],[.49,-.49],[.53,-.46],[.57,-.48],[.61,-.45],[.65,-.49],[.69,-.46],[.73,-.48],
[.10,-.52],[.14,-.54],[.18,-.51],[.22,-.53],[.26,-.50],[.30,-.54],[.34,-.51],[.38,-.53],[.42,-.50],[.46,-.54],[.50,-.51],[.54,-.53],[.58,-.50],[.62,-.54],[.66,-.51],[.70,-.53],[.74,-.55],
[.08,-.57],[.12,-.59],[.16,-.56],[.20,-.58],[.24,-.55],[.28,-.59],[.32,-.56],[.36,-.58],[.40,-.55],[.44,-.59],[.48,-.56],[.52,-.58],[.56,-.55],[.60,-.59],[.64,-.56],[.68,-.58],[.72,-.60],[.76,-.56],
[.09,-.62],[.13,-.64],[.17,-.61],[.21,-.63],[.25,-.60],[.29,-.64],[.33,-.61],[.37,-.63],[.41,-.60],[.45,-.64],[.49,-.61],[.53,-.63],[.57,-.60],[.61,-.64],[.65,-.61],[.69,-.63],[.73,-.65],
[.11,-.67],[.15,-.69],[.19,-.66],[.23,-.68],[.27,-.65],[.31,-.69],[.35,-.66],[.39,-.68],[.43,-.65],[.47,-.69],[.51,-.66],[.55,-.68],[.59,-.65],[.63,-.69],[.67,-.66],[.71,-.68],
[.14,-.72],[.18,-.74],[.22,-.71],[.26,-.73],[.30,-.70],[.34,-.74],[.38,-.71],[.42,-.73],[.46,-.70],[.50,-.74],[.54,-.71],[.58,-.73],[.62,-.70],[.66,-.74],[.70,-.72],
[.19,-.77],[.23,-.79],[.27,-.76],[.31,-.78],[.35,-.75],[.39,-.79],[.43,-.76],[.47,-.78],[.51,-.75],[.55,-.79],[.59,-.76],[.63,-.78],
[.25,-.82],[.30,-.84],[.34,-.81],[.38,-.85],[.42,-.82],[.46,-.84],[.50,-.81],[.54,-.85],[.58,-.82],[.62,-.85],
[.32,-.88],[.40,-.87],[.45,-.90],[.49,-.87],[.58,-.89],
[.40,-.57],[.44,-.64],[.48,-.53],[.52,-.62],[.36,-.67],[.32,-.52],[.56,-.70],[.46,-.74],[.38,-.45],[.50,-.44],[.42,-.70],[.34,-.60],[.54,-.56],[.58,-.65],[.30,-.72],[.26,-.62],[.28,-.48],[.62,-.58],[.60,-.48],[.48,-.80],[.40,-.78],[.44,-.52],[.36,-.55],[.52,-.68],[.46,-.60],[.42,-.42],[.56,-.77],[.24,-.70],[.64,-.67],[.38,-.63],[.50,-.58],[.34,-.76],[.44,-.84],[.54,-.48],[.30,-.58],[.58,-.53],[.40,-.49],[.48,-.66],[.22,-.57],[.20,-.64],
[.24,-.38],[.30,-.41],[.35,-.37],[.40,-.42],[.45,-.38],[.50,-.42],[.55,-.37],[.60,-.41],[.66,-.36],
[.16,-.50],[.20,-.47],[.24,-.52],[.28,-.49],[.32,-.53],[.36,-.48],[.40,-.52],[.44,-.47],[.48,-.52],[.52,-.48],[.56,-.52],[.60,-.47],[.64,-.52],[.68,-.48],[.72,-.51],
[.14,-.60],[.18,-.63],[.22,-.59],[.26,-.64],[.30,-.60],[.34,-.64],[.38,-.59],[.42,-.63],[.46,-.58],[.50,-.63],[.54,-.59],[.58,-.62],[.62,-.58],[.66,-.63],[.70,-.59],
[.17,-.70],[.21,-.73],[.25,-.69],[.29,-.74],[.33,-.70],[.37,-.73],[.41,-.69],[.45,-.74],[.49,-.70],[.53,-.73],[.57,-.69],[.61,-.73],[.65,-.69],
[.28,-.81],[.36,-.80],[.44,-.81],[.52,-.80],[.60,-.80],[.48,-.85],
[.32,-.57],[.36,-.63],[.40,-.54],[.44,-.61],[.48,-.68],[.52,-.55],[.56,-.62],[.60,-.67],[.34,-.70],[.38,-.76],[.42,-.66],[.46,-.56],[.50,-.71],[.54,-.64],[.58,-.57],[.62,-.71],[.30,-.62],[.34,-.48],[.38,-.52],[.42,-.46],[.46,-.49],[.50,-.54],[.54,-.45],[.58,-.44],[.32,-.77],[.40,-.72],[.44,-.77],[.52,-.77],[.56,-.73],[.28,-.67],[.36,-.58],[.48,-.61],[.42,-.58],[.46,-.66],[.54,-.66],[.38,-.67],[.26,-.56],[.62,-.63],[.44,-.69],[.50,-.48],[.40,-.63],[.66,-.56],[.24,-.66],[.58,-.78],
[.37,-.47],[.41,-.49],[.45,-.47],[.49,-.49],[.53,-.47],
[.31,-.51],[.35,-.53],[.39,-.51],[.43,-.53],[.47,-.51],[.51,-.53],[.55,-.51],[.59,-.53],
[.29,-.55],[.33,-.57],[.37,-.55],[.41,-.57],[.45,-.55],[.49,-.57],[.53,-.55],[.57,-.57],[.61,-.55],
[.29,-.61],[.33,-.59],[.37,-.61],[.41,-.59],[.45,-.61],[.49,-.59],[.53,-.61],[.57,-.59],[.61,-.61],
[.29,-.63],[.33,-.65],[.37,-.63],[.41,-.65],[.45,-.63],[.49,-.65],[.53,-.63],[.57,-.65],[.61,-.63],
[.31,-.69],[.35,-.67],[.39,-.69],[.43,-.67],[.47,-.69],[.51,-.67],[.55,-.69],[.59,-.67],
[.33,-.71],[.37,-.73],[.41,-.71],[.45,-.73],[.49,-.71],[.53,-.73],[.57,-.71],
[.37,-.75],[.41,-.77],[.45,-.75],[.49,-.77],[.53,-.75],
[.41,-.79],[.45,-.81],[.49,-.79],
[.40,-.52],[.44,-.50],[.48,-.54],[.52,-.52],
[.34,-.58],[.38,-.56],[.42,-.60],[.46,-.56],[.50,-.60],[.54,-.58],[.58,-.60],
[.32,-.64],[.36,-.66],[.40,-.64],[.44,-.66],[.48,-.62],[.52,-.66],[.56,-.62],[.60,-.64],
[.36,-.70],[.40,-.68],[.44,-.72],[.48,-.68],[.52,-.70],[.56,-.66],
[.42,-.76],[.46,-.78],[.50,-.76]
];

const clusters = [blue, orange, green, red, purple, brown];
const data = clusters.flatMap((pts, i) => pts.map(([x, y]) => ({x, y, s: seriesNames[i]})));

const fmt = d3.format(".1f");
const chart = Plot.plot({
  width: 1166,
  height: 1115,
  marginLeft: 97,
  marginRight: 32.5,
  marginTop: 19.6,
  marginBottom: 57.4,
  style: {fontFamily: "'DejaVu Sans', sans-serif", fontSize: "27.8px", color: "black", background: "white", overflow: "visible"},
  x: {domain: [-1, 1], ticks: xTicks, tickFormat: fmt, tickSize: 9.7, tickPadding: 12.5, label: null},
  y: {domain: [-1, 1], ticks: yTicks, tickFormat: fmt, tickSize: 9.7, tickPadding: 9, label: null},
  color: {domain: seriesNames, range: seriesColors},
  marks: [
    Plot.dot(data, {x: "x", y: "y", r: 8.3, fill: "s", stroke: "s", fillOpacity: 0.5, strokeOpacity: 0.5, strokeWidth: 3, clip: true}),
    Plot.ruleX(xTicks, {stroke: "#b0b0b0", strokeWidth: 2.2}),
    Plot.ruleY(yTicks, {stroke: "#b0b0b0", strokeWidth: 2.2}),
    Plot.frame({stroke: "black", strokeWidth: 2.2})
  ]
});
document.getElementById("chart").appendChild(chart);
</script>
</body></html>
